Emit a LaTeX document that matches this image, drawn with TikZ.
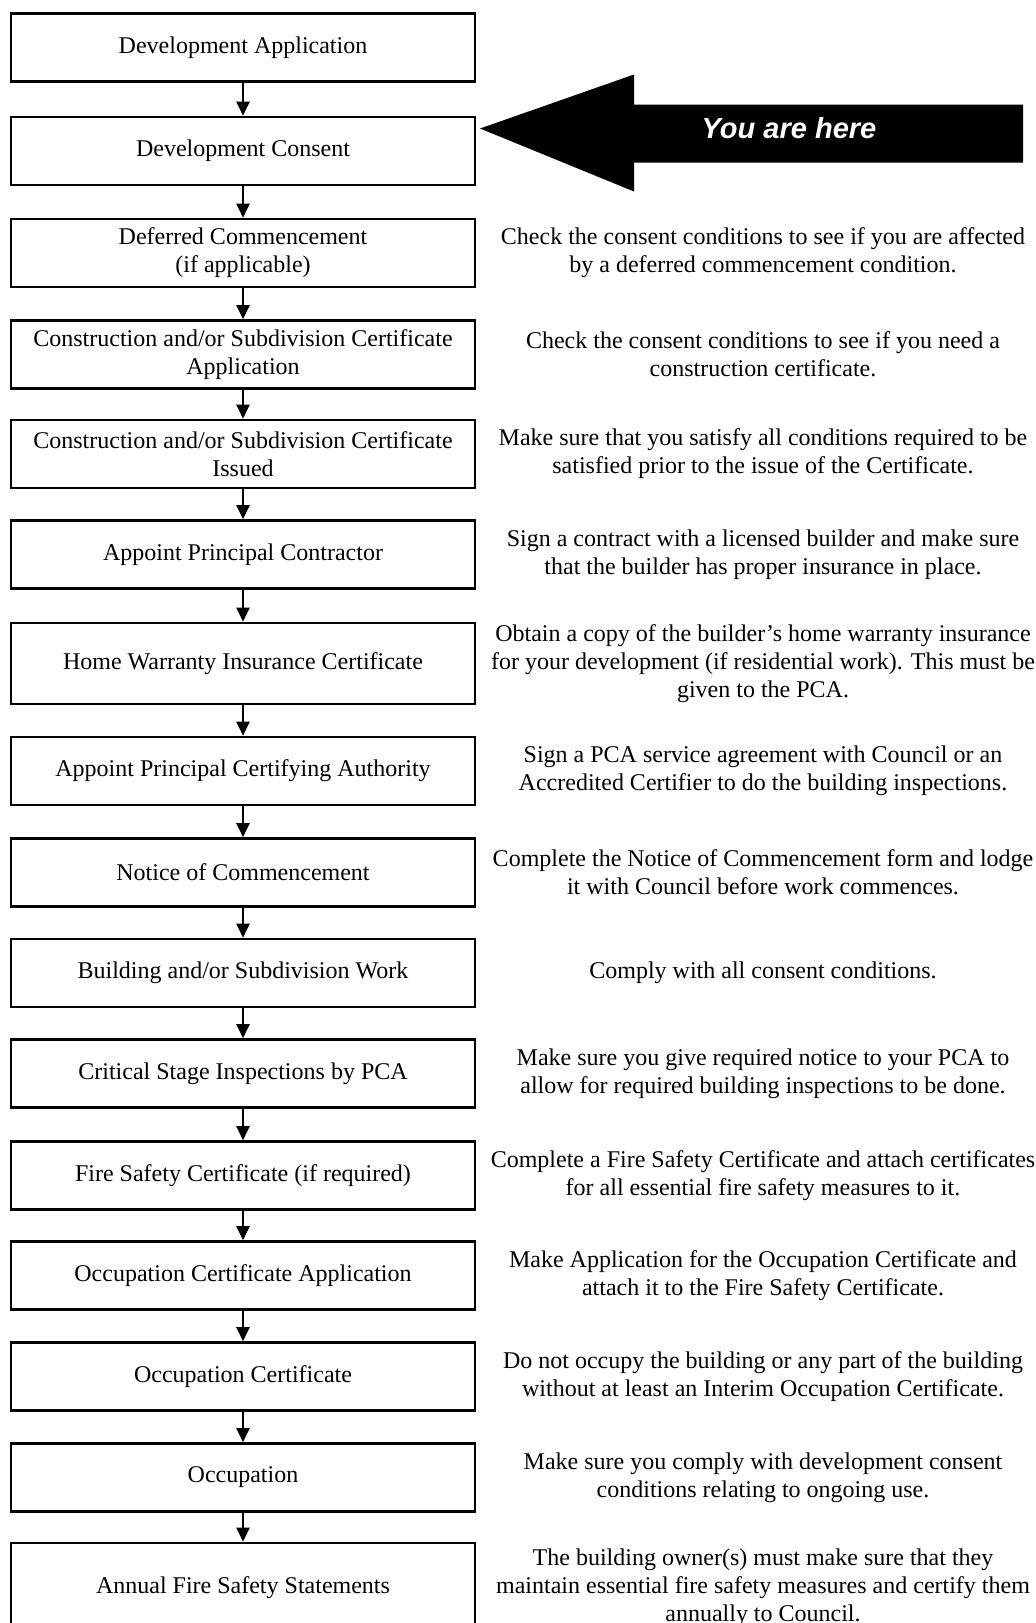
\documentclass[tikz,border=0pt]{standalone}
\usepackage{fontspec}
\setmainfont{Liberation Serif}
\newfontfamily\herefont{Liberation Sans}
\usetikzlibrary{arrows.meta}

\begin{document}
\begin{tikzpicture}[x=0.5pt, y=-0.5pt, font=\fontsize{12}{14}\selectfont,
    stage/.style={draw, line width=1.3pt, minimum width=232pt, minimum height=34pt, align=center, inner sep=0pt},
    note/.style={align=center, inner sep=0pt},
    flow/.style={line width=1pt, -{Triangle[width=6.5pt,length=7pt]}}]
  \useasboundingbox (0,0) rectangle (1036,1623);

  \node[stage] (dapp) at (243,47.6) {Development Application};
  \node[stage] (dcon) at (243,151) {Development Consent};
  \node[stage] (defer) at (243,253) {Deferred Commencement\\(if applicable)};
  \node[stage] (ccapp) at (243,354.5) {Construction and/or Subdivision Certificate\\Application};
  \node[stage] (cciss) at (243,454) {Construction and/or Subdivision Certificate\\Issued};
  \node[stage] (princ) at (243,554.5) {Appoint Principal Contractor};
  \node[stage, minimum height=40.5pt] (hwi) at (243,663.5) {Home Warranty Insurance Certificate};
  \node[stage] (pca) at (243,771) {Appoint Principal Certifying Authority};
  \node[stage] (notice) at (243,872.5) {Notice of Commencement};
  \node[stage] (work) at (243,973) {Building and/or Subdivision Work};
  \node[stage] (insp) at (243,1073.5) {Critical Stage Inspections by PCA};
  \node[stage] (fsc) at (243,1175.5) {Fire Safety Certificate (if required)};
  \node[stage] (ocapp) at (243,1275.5) {Occupation Certificate Application};
  \node[stage] (occert) at (243,1376.5) {Occupation Certificate};
  \node[stage] (occ) at (243,1477.5) {Occupation};
  \node[stage, minimum height=45pt] (afss) at (243,1588) {Annual Fire Safety Statements};

  \foreach \a/\b in {dapp/dcon, dcon/defer, defer/ccapp, ccapp/cciss, cciss/princ,
      princ/hwi, hwi/pca, pca/notice, notice/work, work/insp, insp/fsc,
      fsc/ocapp, ocapp/occert, occert/occ, occ/afss}
    \draw[flow] (\a) -- (\b);

  \fill (480,128.5) -- (634,74.5) -- (634,104.5) -- (1023,104.5)
    -- (1023,162.5) -- (634,162.5) -- (634,191.5) -- cycle;
  \node[text=white, font=\herefont\bfseries\itshape\fontsize{14.5}{16}\selectfont] (here) at (789,128.5) {You are here};

  \node[note] (ndefer) at (763,253) {Check the consent conditions to see if you are affected\\by a deferred commencement condition.};
  \node[note] (nccapp) at (763,354.5) {Check the consent conditions to see if you need a\\construction certificate.};
  \node[note] (ncciss) at (763,454) {Make sure that you satisfy all conditions required to be\\satisfied prior to the issue of the Certificate.};
  \node[note] (nprinc) at (763,554.5) {Sign a contract with a licensed builder and make sure\\that the builder has proper insurance in place.};
  \node[note] (nhwi) at (763,663.5) {Obtain a copy of the builder’s home warranty insurance\\for your development (if residential work). This must be\\given to the PCA.};
  \node[note] (npca) at (763,771) {Sign a PCA service agreement with Council or an\\Accredited Certifier to do the building inspections.};
  \node[note] (nnotice) at (763,872.5) {Complete the Notice of Commencement form and lodge\\it with Council before work commences.};
  \node[note] (nwork) at (763,973) {Comply with all consent conditions.};
  \node[note] (ninsp) at (763,1073.5) {Make sure you give required notice to your PCA to\\allow for required building inspections to be done.};
  \node[note] (nfsc) at (763,1175.5) {Complete a Fire Safety Certificate and attach certificates\\for all essential fire safety measures to it.};
  \node[note] (nocapp) at (763,1275.5) {Make Application for the Occupation Certificate and\\attach it to the Fire Safety Certificate.};
  \node[note] (noccert) at (763,1376.5) {Do not occupy the building or any part of the building\\without at least an Interim Occupation Certificate.};
  \node[note] (nocc) at (763,1477.5) {Make sure you comply with development consent\\conditions relating to ongoing use.};
  \node[note] (nafss) at (763,1588) {The building owner(s) must make sure that they\\maintain essential fire safety measures and certify them\\annually to Council.};
\end{tikzpicture}
\end{document}
